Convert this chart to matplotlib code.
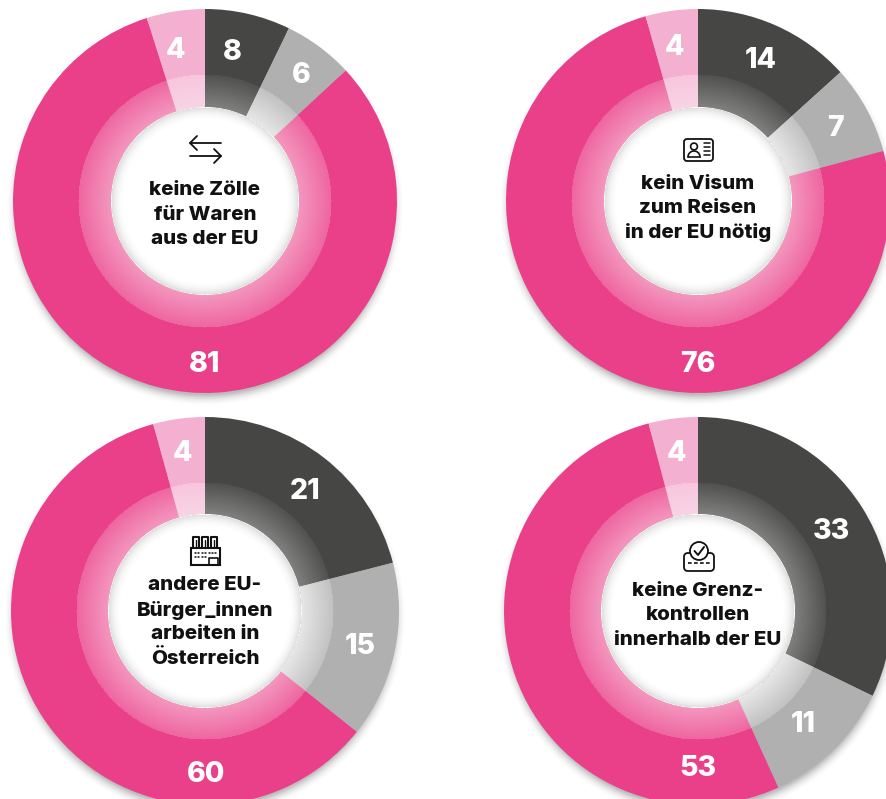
import numpy as np
import matplotlib
matplotlib.use("Agg")
import matplotlib.pyplot as plt
from matplotlib.patches import Circle, FancyBboxPatch, Rectangle

W, H = 886, 799

# labels as printed in the chart
labels_zoelle = [8, 6, 81, 4]
labels_visum = [14, 7, 76, 4]
labels_arbeit = [21, 15, 60, 4]
labels_grenze = [33, 11, 53, 4]

# wedge sizes (the printed numbers are rounded)
shares_zoelle = [7.2, 5.9, 82.0, 4.9]
shares_visum = [13.3, 7.5, 74.8, 4.4]
shares_arbeit = [21.0, 14.7, 60.0, 4.3]
shares_grenze = [32.2, 11.0, 52.7, 4.1]

titles = [
    ["keine Zölle", "für Waren", "aus der EU"],
    ["kein Visum", "zum Reisen", "in der EU nötig"],
    ["andere EU-", "Bürger_innen", "arbeiten in", "Österreich"],
    ["keine Grenz-", "kontrollen", "innerhalb der EU"],
]
title_y = [
    [190, 215, 239],
    [184, 208, 232],
    [585, 610, 634, 658],
    [591, 615, 640],
]

colors = ["#464644", "#B0B0B0", "#EA4089", "#F4B0D0"]
# white overlay strength on the inner band (outer edge, hole edge)
band_alpha = [(0.06, 0.32), (0.22, 0.70), (0.20, 0.46), (0.28, 0.46)]

# cx, cy (pixels from top), outer radius, band radius, hole radius
donuts = [
    (205, 201, 192, 127, 94),
    (698, 201, 192, 127, 94),
    (205, 611, 194, 129, 97),
    (698, 611, 194, 129, 97),
]

# small label shifts in pixels (right, down), the labels do not sit exactly mid wedge
nudges = [
    [(-8, 2), (3, -2), (0, 0), (-5, 2)],
    [(-1, 0), (0, 0), (0, 0), (-2, -1)],
    [(4, 2), (2, 0), (1, 0), (-1, -5)],
    [(0, 1), (-4, -2), (0, -6), (-1, -5)],
]

fig = plt.figure(figsize=(W / 100, H / 100), dpi=100)
ax = fig.add_axes([0, 0, 1, 1])
FONT = "Inter"
INK = "#111111"


def py(y):
    return H - y


def radial_image(cx, cy, rmax, func, rgb, zorder):
    xs = np.arange(cx - rmax, cx + rmax + 1)
    ys = np.arange(cy - rmax, cy + rmax + 1)
    xx, yy = np.meshgrid(xs, ys)
    r = np.hypot(xx - cx, yy - cy)
    img = np.zeros(r.shape + (4,))
    img[..., :3] = rgb
    img[..., 3] = func(r)
    return ax.imshow(img, extent=(cx - rmax, cx + rmax, cy - rmax, cy + rmax),
                     origin="lower", zorder=zorder, interpolation="bilinear")


def draw_donut(d, shares, labels, nudge):
    cx, cy, R, rb, rh = d
    cy = py(cy)

    # soft shadow below the ring, falls slightly downwards
    radial_image(cx, cy - 6, R + 12,
                 lambda r: np.clip((R + 8 - r) / 12, 0, 1) ** 2 * 0.35, (0.25, 0.25, 0.25), 1)

    wedges, _ = ax.pie(shares, colors=colors, startangle=90, counterclock=False,
                       center=(cx, cy), radius=R, wedgeprops=dict(width=R - rh, linewidth=0))
    for w in wedges:
        w.set_zorder(2)

    # lighter inner band, fades to white towards the hole
    for w, (a0, a1) in zip(wedges, band_alpha):
        im = radial_image(cx, cy, rb,
                          lambda r, a0=a0, a1=a1: np.where(r <= rb, a0 + (a1 - a0) * np.clip((rb - r) / (rb - rh), 0, 1), 0),
                          (1, 1, 1), 3)
        im.set_clip_path(w)

    ax.add_patch(Circle((cx, cy), rh, fc="white", ec="none", zorder=4))
    # shadow just inside the hole
    radial_image(cx, cy, rh + 1,
                 lambda r: np.where(r <= rh, np.clip((r - rh + 14) / 14, 0, 1) ** 2.2 * 0.17, 0), (0.2, 0.2, 0.2), 5)

    for w, lab, col, (nx, ny) in zip(wedges, labels, colors, nudge):
        if col == "#EA4089":
            x, y = cx, cy - 160
        else:
            a = np.radians((w.theta1 + w.theta2) / 2)
            x, y = cx + 157 * np.cos(a), cy + 157 * np.sin(a)
        ax.text(x + nx, y - 3 - ny, str(lab), color="white", fontsize=20.5, fontweight=800, family=FONT,
                ha="center", va="center", zorder=6)


def line(xs, ys, lw=1.3):
    ax.plot(xs, [py(y) for y in ys], color=INK, lw=lw, zorder=7, solid_capstyle="round", solid_joinstyle="round")


def icon_arrows():
    line([190, 221], [143, 143])
    line([197, 190, 197], [136, 143, 150])
    line([190, 221], [156, 156])
    line([214, 221, 214], [149, 156, 163])


def icon_card():
    ax.add_patch(FancyBboxPatch((684, py(161)), 29, 22, boxstyle="round,pad=0,rounding_size=3",
                                fc="white", ec=INK, lw=1.3, zorder=7))
    ax.add_patch(Circle((694, py(146.5)), 3.4, fc="white", ec=INK, lw=1.2, zorder=7))
    t = np.linspace(np.pi, 0, 20)
    line(list(694 + 6 * np.cos(t)), list(157 - 6 * np.sin(t)), 1.2)
    line([688, 700], [157, 157], 1.2)
    for y in [143, 147, 151, 155]:
        line([704, 710], [y, y], 1.1)


def icon_factory():
    ax.add_patch(Rectangle((191.5, py(565)), 29, 17, fc="white", ec=INK, lw=1.5, zorder=7))
    for x in [193, 202, 211]:
        line([x, x, x + 6.5, x + 6.5], [548, 537, 537, 548], 1.5)
        line([x + 3.2, x + 3.2], [540, 548], 1.0)
    for x in np.arange(195, 216, 3.4):
        line([x, x + 1], [553, 553], 1.1)
    for x in np.arange(195, 206, 3.4):
        line([x, x + 1], [557, 557], 1.1)
    line([209, 209, 218, 218], [565, 558, 558, 565], 1.2)


def icon_check():
    ax.add_patch(FancyBboxPatch((684, py(571)), 30, 18, boxstyle="round,pad=0,rounding_size=4",
                                fc="white", ec=INK, lw=1.3, zorder=7))
    ax.add_patch(Circle((699, py(551)), 9, fc="white", ec=INK, lw=1.3, zorder=7))
    line([694.5, 698, 704], [551, 555, 547], 1.4)
    ax.plot([688, 710], [py(563), py(563)], color=INK, lw=1.2, ls=(0, (2.2, 1.4)), zorder=7)


for d, s, l, n in zip(donuts, [shares_zoelle, shares_visum, shares_arbeit, shares_grenze],
                      [labels_zoelle, labels_visum, labels_arbeit, labels_grenze], nudges):
    draw_donut(d, s, l, n)

for d, lines, ys in zip(donuts, titles, title_y):
    for txt, y in zip(lines, ys):
        ax.text(d[0], py(y), txt, color=INK, fontsize=14.8, fontweight=800, family=FONT,
                ha="center", va="center", zorder=7)

icon_arrows()
icon_card()
icon_factory()
icon_check()

ax.set_xlim(0, W)
ax.set_ylim(0, H)
ax.set_aspect("auto")
ax.axis("off")

fig.savefig("out.png", dpi=100)
